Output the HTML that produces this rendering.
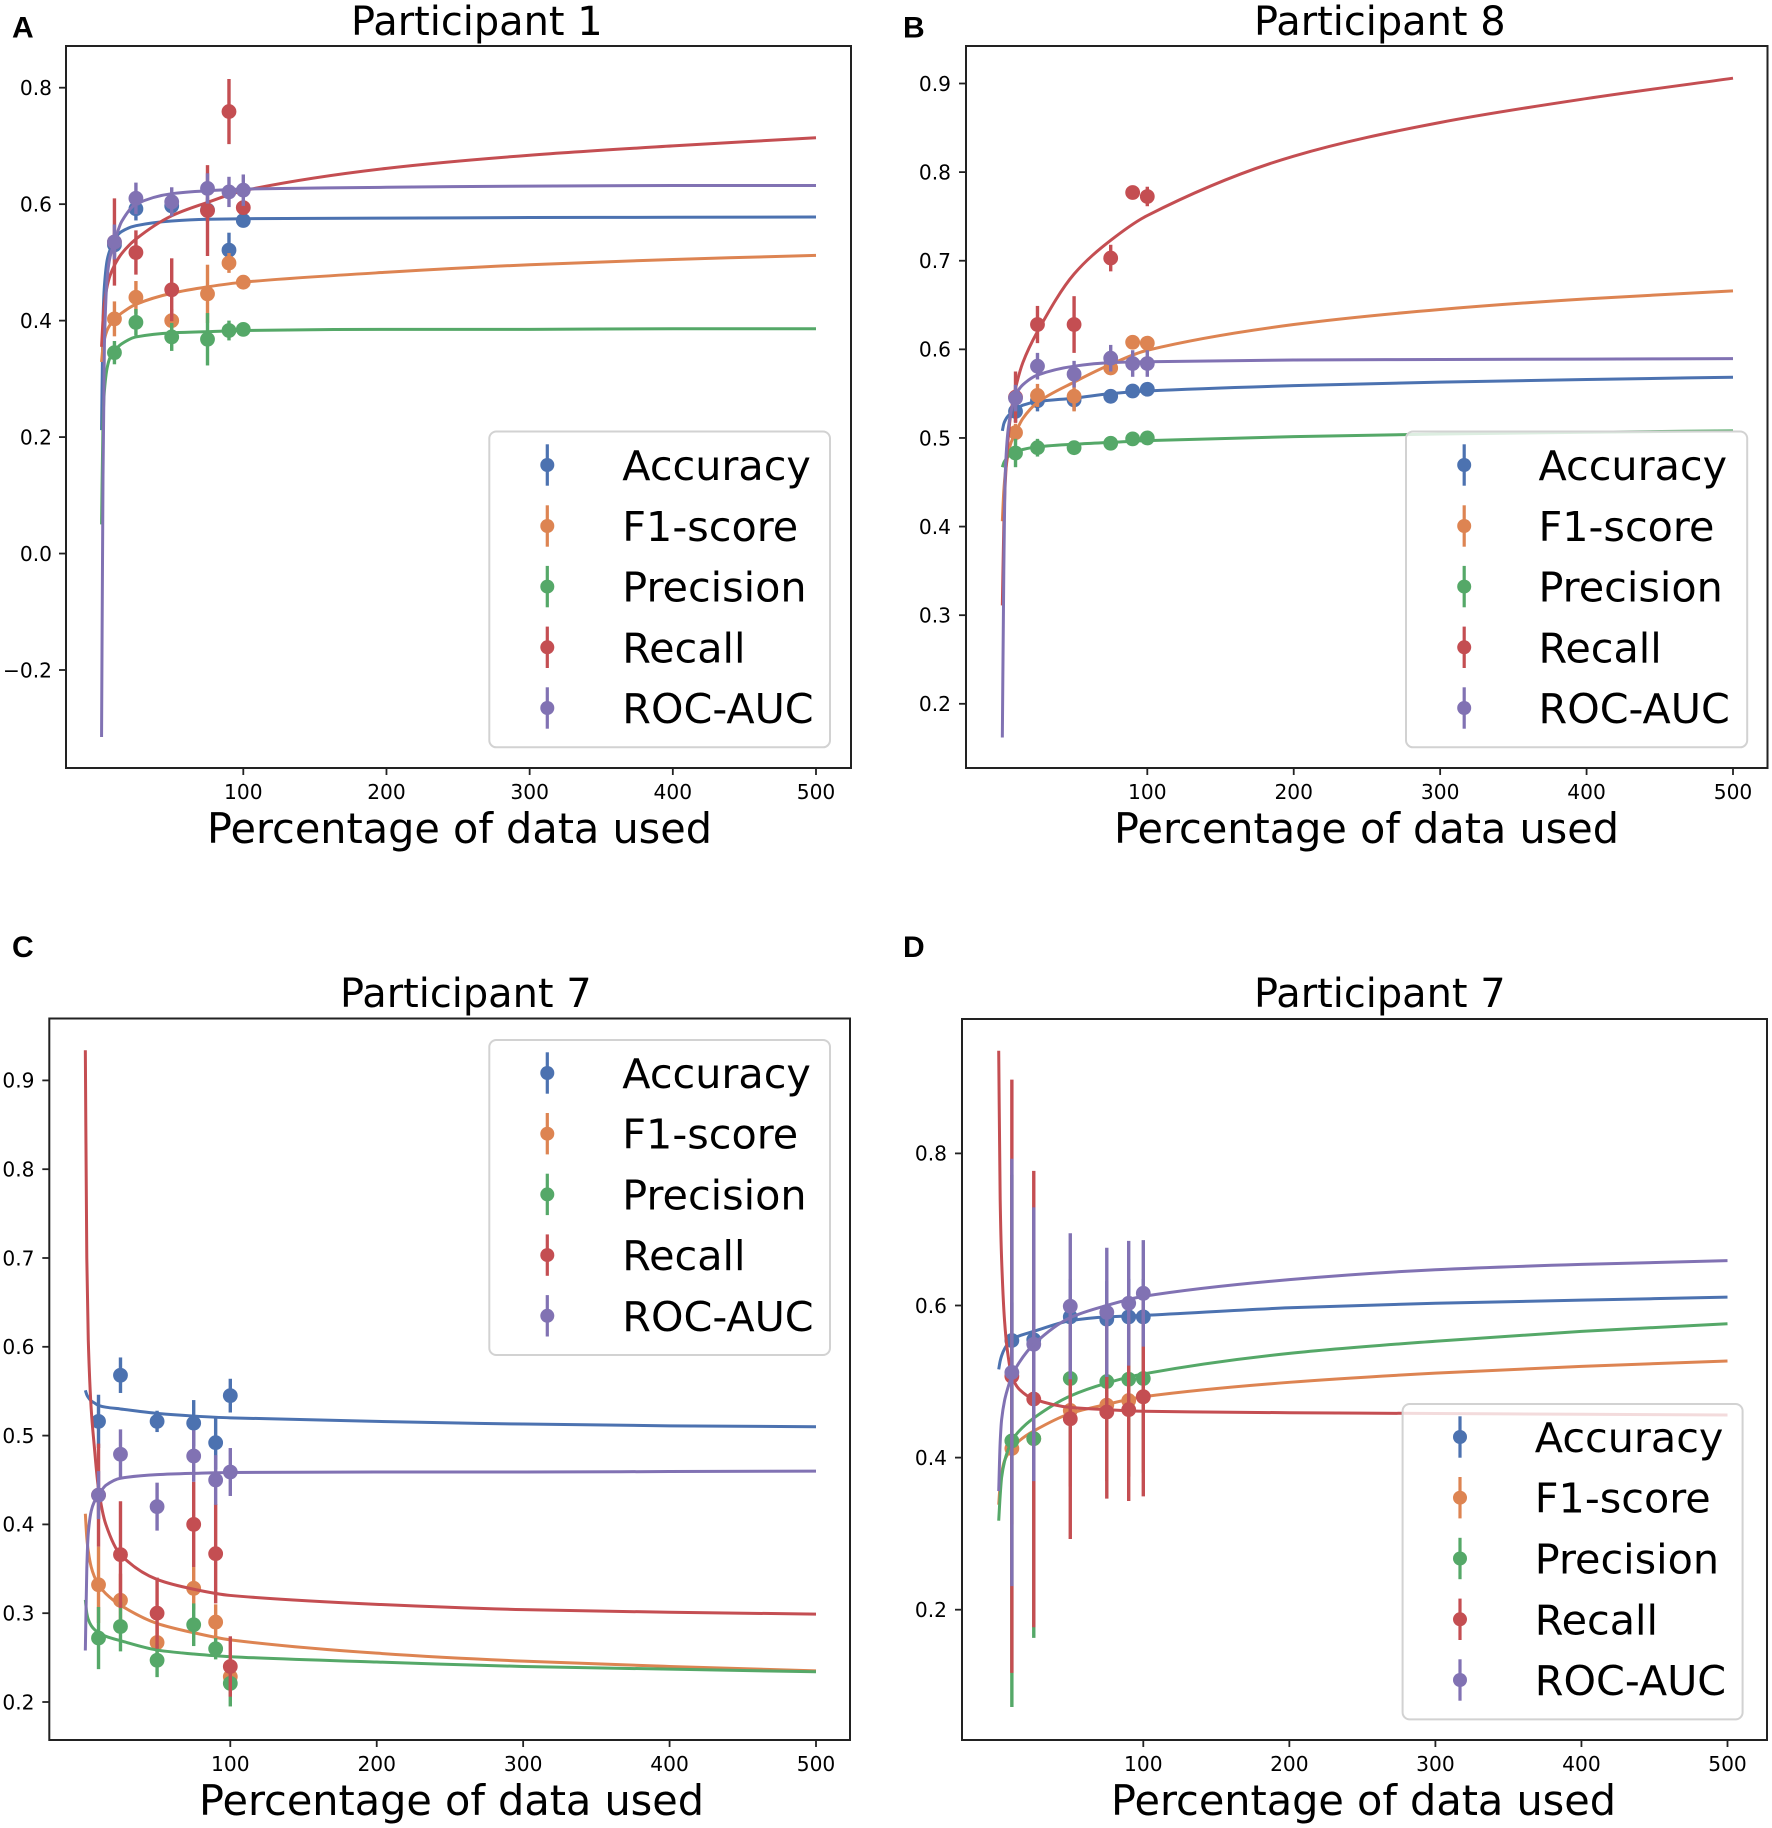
<!DOCTYPE html>
<html lang="en">
<head>
<meta charset="utf-8">
<title>Learning curves by participant</title>
<style>
html,body{margin:0;padding:0;background:#fff}
svg{display:block}
text{font-family:"DejaVu Sans","Liberation Sans",sans-serif;fill:#000}
.title{font-size:39.9px}
.xlabel{font-size:41.4px}
.leg{font-size:41.3px}
.tick{font-size:20.2px}
.letter{font-family:"Liberation Sans",sans-serif;font-weight:bold;font-size:30px}
.frame{fill:#fff;stroke:#222;stroke-width:2}
.legbox{fill:#fff;fill-opacity:.8;stroke:#d2d2d2;stroke-width:2}
.lb{stroke:#4c72b0;stroke-width:3.2}.lo{stroke:#dd8452;stroke-width:3.2}.lg{stroke:#55a868;stroke-width:3.2}.lr{stroke:#c44e52;stroke-width:3.2}.lp{stroke:#8172b3;stroke-width:3.2}
.mb{fill:#4c72b0}.mo{fill:#dd8452}.mg{fill:#55a868}.mr{fill:#c44e52}.mp{fill:#8172b3}
</style>
</head>
<body>
<svg id="figure" xmlns="http://www.w3.org/2000/svg" width="1772" height="1828" viewBox="0 0 1772 1828">
  <rect x="0" y="0" width="1772" height="1828" fill="#fff"/>

  <g>
    <text class="letter" x="12" y="37.5">A</text>
    <text class="title" x="351" y="35">Participant 1</text>
    <rect class="frame" x="66" y="46" width="785" height="722"/>
    <g id="plot-a"></g>
    <text class="xlabel" x="207" y="843">Percentage of data used</text>
    <g>
      <rect class="legbox" x="489.3" y="431.5" width="340.7" height="315.8" rx="7"/>
      <g><line class="lb" x1="547.3" x2="547.3" y1="444.3" y2="485.7"/><circle class="mb" cx="547.3" cy="465" r="7"/><text class="leg" x="622.3" y="480">Accuracy</text></g>
      <g><line class="lo" x1="547.3" x2="547.3" y1="505.3" y2="546.7"/><circle class="mo" cx="547.3" cy="526" r="7"/><text class="leg" x="622.3" y="541">F1-score</text></g>
      <g><line class="lg" x1="547.3" x2="547.3" y1="565.9" y2="607.3"/><circle class="mg" cx="547.3" cy="586.6" r="7"/><text class="leg" x="622.3" y="601.6">Precision</text></g>
      <g><line class="lr" x1="547.3" x2="547.3" y1="626.6" y2="668"/><circle class="mr" cx="547.3" cy="647.3" r="7"/><text class="leg" x="622.3" y="662.3">Recall</text></g>
      <g><line class="lp" x1="547.3" x2="547.3" y1="687.3" y2="728.7"/><circle class="mp" cx="547.3" cy="708" r="7"/><text class="leg" x="622.3" y="723">ROC-AUC</text></g>
    </g>
  </g>

  <g>
    <text class="letter" x="903" y="37.5">B</text>
    <text class="title" x="1254" y="35">Participant 8</text>
    <rect class="frame" x="966" y="46" width="801.5" height="722"/>
    <g id="plot-b"></g>
    <text class="xlabel" x="1114" y="843">Percentage of data used</text>
    <g>
      <rect class="legbox" x="1406" y="431.5" width="341.2" height="315.8" rx="7"/>
      <g><line class="lb" x1="1464.2" x2="1464.2" y1="444.3" y2="485.7"/><circle class="mb" cx="1464.2" cy="465" r="7"/><text class="leg" x="1538.5" y="480">Accuracy</text></g>
      <g><line class="lo" x1="1464.2" x2="1464.2" y1="505.3" y2="546.7"/><circle class="mo" cx="1464.2" cy="526" r="7"/><text class="leg" x="1538.5" y="541">F1-score</text></g>
      <g><line class="lg" x1="1464.2" x2="1464.2" y1="565.9" y2="607.3"/><circle class="mg" cx="1464.2" cy="586.6" r="7"/><text class="leg" x="1538.5" y="601.6">Precision</text></g>
      <g><line class="lr" x1="1464.2" x2="1464.2" y1="626.6" y2="668"/><circle class="mr" cx="1464.2" cy="647.3" r="7"/><text class="leg" x="1538.5" y="662.3">Recall</text></g>
      <g><line class="lp" x1="1464.2" x2="1464.2" y1="687.3" y2="728.7"/><circle class="mp" cx="1464.2" cy="708" r="7"/><text class="leg" x="1538.5" y="723">ROC-AUC</text></g>
    </g>
  </g>

  <g>
    <text class="letter" x="12" y="957">C</text>
    <text class="title" x="340" y="1007">Participant 7</text>
    <rect class="frame" x="49.3" y="1018.5" width="800.7" height="721.5"/>
    <g id="plot-c"></g>
    <text class="xlabel" x="199" y="1815">Percentage of data used</text>
    <g>
      <rect class="legbox" x="489.3" y="1040" width="340.7" height="315" rx="7"/>
      <g><line class="lb" x1="547.3" x2="547.3" y1="1052.3" y2="1093.7"/><circle class="mb" cx="547.3" cy="1073" r="7"/><text class="leg" x="622.3" y="1088">Accuracy</text></g>
      <g><line class="lo" x1="547.3" x2="547.3" y1="1113" y2="1154.4"/><circle class="mo" cx="547.3" cy="1133.7" r="7"/><text class="leg" x="622.3" y="1148.7">F1-score</text></g>
      <g><line class="lg" x1="547.3" x2="547.3" y1="1173.7" y2="1215.1"/><circle class="mg" cx="547.3" cy="1194.4" r="7"/><text class="leg" x="622.3" y="1209.4">Precision</text></g>
      <g><line class="lr" x1="547.3" x2="547.3" y1="1234.4" y2="1275.8"/><circle class="mr" cx="547.3" cy="1255.1" r="7"/><text class="leg" x="622.3" y="1270.1">Recall</text></g>
      <g><line class="lp" x1="547.3" x2="547.3" y1="1295.1" y2="1336.5"/><circle class="mp" cx="547.3" cy="1315.8" r="7"/><text class="leg" x="622.3" y="1330.8">ROC-AUC</text></g>
    </g>
  </g>

  <g>
    <text class="letter" x="903" y="957">D</text>
    <text class="title" x="1254" y="1007">Participant 7</text>
    <rect class="frame" x="962" y="1019" width="805" height="721"/>
    <g id="plot-d"></g>
    <text class="xlabel" x="1111" y="1815">Percentage of data used</text>
    <g>
      <rect class="legbox" x="1402.6" y="1404" width="340" height="315.4" rx="7"/>
      <g><line class="lb" x1="1460" x2="1460" y1="1416.3" y2="1457.7"/><circle class="mb" cx="1460" cy="1437" r="7"/><text class="leg" x="1534.8" y="1452">Accuracy</text></g>
      <g><line class="lo" x1="1460" x2="1460" y1="1477" y2="1518.4"/><circle class="mo" cx="1460" cy="1497.7" r="7"/><text class="leg" x="1534.8" y="1512.7">F1-score</text></g>
      <g><line class="lg" x1="1460" x2="1460" y1="1537.8" y2="1579.2"/><circle class="mg" cx="1460" cy="1558.5" r="7"/><text class="leg" x="1534.8" y="1573.5">Precision</text></g>
      <g><line class="lr" x1="1460" x2="1460" y1="1598.6" y2="1640"/><circle class="mr" cx="1460" cy="1619.3" r="7"/><text class="leg" x="1534.8" y="1634.3">Recall</text></g>
      <g><line class="lp" x1="1460" x2="1460" y1="1659.3" y2="1700.7"/><circle class="mp" cx="1460" cy="1680" r="7"/><text class="leg" x="1534.8" y="1695">ROC-AUC</text></g>
    </g>
  </g>
</svg>

<script>
// Shared x values
const pointX = [10, 25, 50, 75, 90, 100];
const curveX = [1, 2, 3, 5, 7, 10, 15, 25, 50, 75, 100, 200, 300, 400, 500];
const xTicks = [100, 200, 300, 400, 500];

// Panel A
const aYTicks = [-0.2, 0, 0.2, 0.4, 0.6, 0.8];
const aYLabels = ['\u22120.2', '0.0', '0.2', '0.4', '0.6', '0.8'];
const aAccuracyY = [0.53, 0.592, 0.597, 0.59, 0.521, 0.572];
const aAccuracyErr = [0.02, 0.02, 0.015, 0.02, 0.03, 0.01];
const aAccuracyCurve = [0.212, 0.40, 0.46, 0.505, 0.522, 0.54, 0.553, 0.563, 0.571, 0.574, 0.575, 0.576, 0.577, 0.5775, 0.578];
const aF1Y = [0.403, 0.44, 0.40, 0.446, 0.499, 0.466];
const aF1Err = [0.03, 0.028, 0.02, 0.05, 0.017, 0.006];
const aF1Curve = [0.329, 0.355, 0.368, 0.384, 0.393, 0.402, 0.413, 0.428, 0.447, 0.458, 0.466, 0.483, 0.496, 0.505, 0.512];
const aPrecisionY = [0.345, 0.397, 0.372, 0.368, 0.383, 0.385];
const aPrecisionErr = [0.02, 0.023, 0.024, 0.045, 0.017, 0.005];
const aPrecisionCurve = [0.05, 0.224, 0.28, 0.32, 0.337, 0.348, 0.36, 0.372, 0.379, 0.381, 0.383, 0.385, 0.385, 0.386, 0.386];
const aRecallY = [0.535, 0.517, 0.453, 0.589, 0.759, 0.594];
const aRecallErr = [0.075, 0.038, 0.054, 0.078, 0.056, 0.01];
const aRecallCurve = [0.355, 0.40, 0.43, 0.46, 0.478, 0.495, 0.515, 0.54, 0.58, 0.603, 0.623, 0.6615, 0.684, 0.70, 0.714];
const aRocY = [0.535, 0.61, 0.604, 0.627, 0.621, 0.624];
const aRocErr = [0.03, 0.027, 0.025, 0.026, 0.026, 0.027];
const aRocCurve = [-0.315, 0.13, 0.36, 0.476, 0.51, 0.535, 0.57, 0.60, 0.618, 0.623, 0.626, 0.629, 0.631, 0.632, 0.632];

// Panel B
const bYTicks = [0.2, 0.3, 0.4, 0.5, 0.6, 0.7, 0.8, 0.9];
const bYLabels = ['0.2', '0.3', '0.4', '0.5', '0.6', '0.7', '0.8', '0.9'];
const bAccuracyY = [0.53, 0.542, 0.543, 0.547, 0.553, 0.555];
const bAccuracyErr = [0.012, 0.012, 0.012, 0.004, 0.004, 0.004];
const bAccuracyCurve = [0.508, 0.516, 0.52, 0.525, 0.528, 0.532, 0.537, 0.541, 0.545, 0.55, 0.553, 0.559, 0.563, 0.566, 0.5685];
const bF1Y = [0.506, 0.548, 0.547, 0.579, 0.608, 0.607];
const bF1Err = [0.01, 0.013, 0.017, 0.005, 0.003, 0.005];
const bF1Curve = [0.406, 0.44, 0.46, 0.482, 0.495, 0.506, 0.522, 0.54, 0.563, 0.583, 0.599, 0.628, 0.645, 0.657, 0.666];
const bPrecisionY = [0.483, 0.489, 0.489, 0.494, 0.499, 0.50];
const bPrecisionErr = [0.016, 0.01, 0.005, 0.004, 0.003, 0.003];
const bPrecisionCurve = [0.467, 0.472, 0.475, 0.479, 0.481, 0.484, 0.487, 0.49, 0.493, 0.495, 0.497, 0.5015, 0.5045, 0.5065, 0.508];
const bRecallY = [0.546, 0.628, 0.628, 0.703, 0.777, 0.7725];
const bRecallErr = [0.029, 0.021, 0.032, 0.015, 0.002, 0.011];
const bRecallCurve = [0.311, 0.40, 0.45, 0.50, 0.53, 0.556, 0.585, 0.62, 0.685, 0.723, 0.751, 0.818, 0.856, 0.883, 0.906];
const bRocY = [0.545, 0.581, 0.572, 0.59, 0.584, 0.584];
const bRocErr = [0.015, 0.015, 0.015, 0.015, 0.015, 0.015];
const bRocCurve = [0.162, 0.35, 0.46, 0.51, 0.53, 0.548, 0.56, 0.571, 0.581, 0.585, 0.586, 0.588, 0.5885, 0.589, 0.5895];

// Panel C
const cYTicks = [0.2, 0.3, 0.4, 0.5, 0.6, 0.7, 0.8, 0.9];
const cYLabels = ['0.2', '0.3', '0.4', '0.5', '0.6', '0.7', '0.8', '0.9'];
const cAccuracyY = [0.516, 0.568, 0.516, 0.514, 0.492, 0.545];
const cAccuracyErr = [0.03, 0.02, 0.012, 0.026, 0.03, 0.019];
const cAccuracyCurve = [0.551, 0.546, 0.543, 0.539, 0.537, 0.534, 0.532, 0.53, 0.525, 0.522, 0.52, 0.516, 0.513, 0.511, 0.51];
const cF1Y = [0.332, 0.3145, 0.267, 0.328, 0.29, 0.2285];
const cF1Err = [0.043, 0.03, 0.02, 0.024, 0.02, 0.01];
const cF1Curve = [0.412, 0.385, 0.37, 0.352, 0.342, 0.332, 0.322, 0.309, 0.2885, 0.278, 0.27, 0.255, 0.246, 0.24, 0.235];
const cPrecisionY = [0.272, 0.285, 0.247, 0.287, 0.26, 0.221];
const cPrecisionErr = [0.035, 0.028, 0.019, 0.024, 0.012, 0.026];
const cPrecisionCurve = [0.315, 0.30, 0.293, 0.286, 0.282, 0.278, 0.274, 0.269, 0.2585, 0.254, 0.251, 0.245, 0.24, 0.237, 0.234];
const cRecallY = [0.433, 0.366, 0.30, 0.40, 0.367, 0.24];
const cRecallErr = [0.058, 0.06, 0.04, 0.048, 0.056, 0.034];
const cRecallCurve = [0.934, 0.70, 0.608, 0.53, 0.49, 0.44, 0.40, 0.366, 0.338, 0.327, 0.32, 0.31, 0.304, 0.301, 0.299];
const cRocY = [0.433, 0.479, 0.42, 0.477, 0.45, 0.459];
const cRocErr = [0.027, 0.028, 0.027, 0.029, 0.028, 0.027];
const cRocCurve = [0.258, 0.35, 0.39, 0.415, 0.425, 0.433, 0.444, 0.452, 0.456, 0.4575, 0.4585, 0.459, 0.459, 0.4595, 0.46];

// Panel D
const dYTicks = [0.2, 0.4, 0.6, 0.8];
const dYLabels = ['0.2', '0.4', '0.6', '0.8'];
const dAccuracyY = [0.554, 0.555, 0.585, 0.582, 0.585, 0.585];
const dAccuracyErr = [0.05, 0.05, 0.05, 0.05, 0.05, 0.05];
const dAccuracyCurve = [0.516, 0.527, 0.534, 0.543, 0.549, 0.555, 0.56, 0.566, 0.58, 0.585, 0.587, 0.597, 0.603, 0.607, 0.611];
const dF1Y = [0.412, 0.425, 0.462, 0.469, 0.475, 0.48];
const dF1Err = [0.1, 0.1, 0.1, 0.1, 0.1, 0.1];
const dF1Curve = [0.338, 0.365, 0.38, 0.396, 0.404, 0.412, 0.422, 0.435, 0.458, 0.47, 0.48, 0.499, 0.511, 0.52, 0.527];
const dPrecisionY = [0.422, 0.425, 0.504, 0.50, 0.503, 0.504];
const dPrecisionErr = [0.35, 0.262, 0.1, 0.08, 0.08, 0.08];
const dPrecisionCurve = [0.317, 0.35, 0.374, 0.395, 0.408, 0.422, 0.435, 0.452, 0.481, 0.498, 0.51, 0.537, 0.553, 0.566, 0.576];
const dRecallY = [0.507, 0.477, 0.451, 0.46, 0.463, 0.48];
const dRecallErr = [0.39, 0.30, 0.158, 0.114, 0.12, 0.131];
const dRecallCurve = [0.935, 0.74, 0.66, 0.58, 0.54, 0.507, 0.49, 0.477, 0.466, 0.463, 0.461, 0.459, 0.458, 0.457, 0.456];
const dRocY = [0.512, 0.549, 0.599, 0.591, 0.603, 0.616];
const dRocErr = [0.281, 0.18, 0.096, 0.085, 0.082, 0.07];
const dRocCurve = [0.356, 0.42, 0.45, 0.475, 0.49, 0.507, 0.525, 0.549, 0.584, 0.60, 0.612, 0.634, 0.647, 0.654, 0.659];

const seriesNames = ['accuracy', 'f1-score', 'precision', 'recall', 'roc-auc'];
const seriesColors = ['#4c72b0', '#dd8452', '#55a868', '#c44e52', '#8172b3'];

const panels = [
  { id: 'a', x: [243.3, 816], y: [0.8, 87.7, -0.2, 670], left: 66, bottom: 768, labelRight: 52, yTicks: aYTicks, yLabels: aYLabels,
    pts: [aAccuracyY, aF1Y, aPrecisionY, aRecallY, aRocY], errs: [aAccuracyErr, aF1Err, aPrecisionErr, aRecallErr, aRocErr], curves: [aAccuracyCurve, aF1Curve, aPrecisionCurve, aRecallCurve, aRocCurve] },
  { id: 'b', x: [1147.3, 1733], y: [0.9, 83.5, 0.2, 703.8], left: 966, bottom: 768, labelRight: 951, yTicks: bYTicks, yLabels: bYLabels,
    pts: [bAccuracyY, bF1Y, bPrecisionY, bRecallY, bRocY], errs: [bAccuracyErr, bF1Err, bPrecisionErr, bRecallErr, bRocErr], curves: [bAccuracyCurve, bF1Curve, bPrecisionCurve, bRecallCurve, bRocCurve] },
  { id: 'c', x: [230.3, 816], y: [0.9, 1080.4, 0.2, 1702], left: 49.3, bottom: 1740, labelRight: 34.5, yTicks: cYTicks, yLabels: cYLabels,
    pts: [cAccuracyY, cF1Y, cPrecisionY, cRecallY, cRocY], errs: [cAccuracyErr, cF1Err, cPrecisionErr, cRecallErr, cRocErr], curves: [cAccuracyCurve, cF1Curve, cPrecisionCurve, cRecallCurve, cRocCurve] },
  { id: 'd', x: [1143.3, 1727.5], y: [0.8, 1153.4, 0.2, 1609.7], left: 962, bottom: 1740, labelRight: 947, yTicks: dYTicks, yLabels: dYLabels,
    pts: [dAccuracyY, dF1Y, dPrecisionY, dRecallY, dRocY], errs: [dAccuracyErr, dF1Err, dPrecisionErr, dRecallErr, dRocErr], curves: [dAccuracyCurve, dF1Curve, dPrecisionCurve, dRecallCurve, dRocCurve] }
];

const NS = 'http://www.w3.org/2000/svg';
function mk(tag, attrs, parent) {
  const el = document.createElementNS(NS, tag);
  for (const k in attrs) el.setAttribute(k, attrs[k]);
  parent.appendChild(el);
  return el;
}

// Monotone cubic path through the read-off curve samples
function smoothPath(px, py) {
  const n = px.length, d = [], m = [];
  for (let i = 0; i < n - 1; i++) d.push((py[i + 1] - py[i]) / (px[i + 1] - px[i]));
  m.push(d[0]);
  for (let i = 1; i < n - 1; i++) m.push(d[i - 1] * d[i] <= 0 ? 0 : 2 * d[i - 1] * d[i] / (d[i - 1] + d[i]));
  m.push(d[n - 2]);
  let s = 'M' + px[0].toFixed(2) + ' ' + py[0].toFixed(2);
  for (let i = 0; i < n - 1; i++) {
    const h = (px[i + 1] - px[i]) / 3;
    s += 'C' + (px[i] + h).toFixed(2) + ' ' + (py[i] + m[i] * h).toFixed(2) + ' ' +
         (px[i + 1] - h).toFixed(2) + ' ' + (py[i + 1] - m[i + 1] * h).toFixed(2) + ' ' +
         px[i + 1].toFixed(2) + ' ' + py[i + 1].toFixed(2);
  }
  return s;
}

panels.forEach(function (p) {
  const root = document.getElementById('plot-' + p.id);
  const sx = function (v) { return p.x[0] + (v - 100) * (p.x[1] - p.x[0]) / 400; };
  const sy = function (v) { return p.y[1] + (v - p.y[0]) * (p.y[3] - p.y[1]) / (p.y[2] - p.y[0]); };

  xTicks.forEach(function (t) {
    const tick = mk('line', { x1: sx(t), x2: sx(t), y1: p.bottom, y2: p.bottom + 7, stroke: '#222', 'stroke-width': 1.8 }, root);
    
    
    const lab = mk('text', { x: sx(t), y: p.bottom + 31, 'text-anchor': 'middle', class: 'tick' }, root);
    lab.textContent = String(t);
    
    
  });

  p.yTicks.forEach(function (t, i) {
    const tick = mk('line', { x1: p.left - 7, x2: p.left, y1: sy(t), y2: sy(t), stroke: '#222', 'stroke-width': 1.8 }, root);
    
    
    const lab = mk('text', { x: p.labelRight, y: sy(t) + 7.3, 'text-anchor': 'end', class: 'tick' }, root);
    lab.textContent = p.yLabels[i];
    
    
  });

  seriesNames.forEach(function (name, s) {
    const color = seriesColors[s];
    const group = mk('g', {}, root);
    
    

    pointX.forEach(function (x, i) {
      const v = p.pts[s][i], e = p.errs[s][i];
      const bar = mk('line', { x1: sx(x), x2: sx(x), y1: sy(v - e), y2: sy(v + e), stroke: color, 'stroke-width': 3.4 }, group);
      
      
      const dot = mk('circle', { cx: sx(x), cy: sy(v), r: 7.4, fill: color }, group);
      
      
    });

    const path = mk('path', {
      d: smoothPath(curveX.map(sx), p.curves[s].map(sy)),
      fill: 'none', stroke: color, 'stroke-width': 3
    }, group);
    
    
  });
});
</script>
</body>
</html>
